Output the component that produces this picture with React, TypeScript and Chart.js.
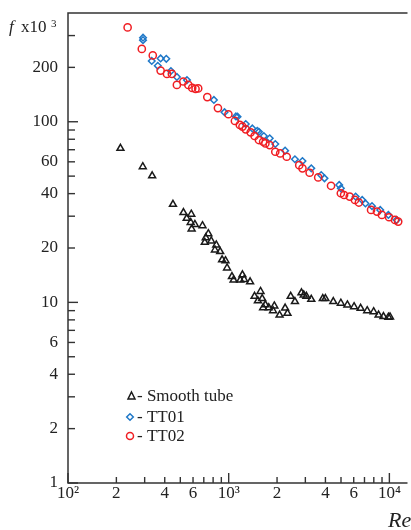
import React, { useEffect, useRef } from "react";
import { Chart, registerables } from "chart.js";

Chart.register(...registerables);

// ---- data ----
const smoothRe = [212, 292, 334, 450, 523, 585, 548, 580, 616, 588, 687, 747, 720, 710, 779, 837, 821, 885, 910, 955, 977, 1048, 1073, 1180, 1218, 1248, 1359, 1578, 1449, 1520, 1616, 1692, 1638, 1775, 1923, 1888, 2074, 2245, 2322, 2432, 2584, 2838, 2931, 3046, 3266, 3852, 3998, 4478, 4988, 5480, 6030, 6624, 7278, 7980, 8570, 9190, 9860, 10090];
const smoothF = [71.3, 56.4, 50.2, 34.9, 31.4, 30.8, 29.2, 27.7, 27.0, 25.5, 26.6, 24.0, 22.8, 21.5, 21.9, 20.8, 19.5, 19.1, 17.2, 17.0, 15.5, 13.9, 13.3, 13.3, 14.2, 13.4, 13.0, 11.5, 10.8, 10.2, 10.5, 9.7, 9.35, 9.35, 9.55, 9.0, 8.5, 9.3, 8.7, 10.8, 10.1, 11.3, 11.0, 10.8, 10.4, 10.5, 10.5, 10.1, 9.89, 9.68, 9.47, 9.27, 9.0, 8.88, 8.5, 8.34, 8.28, 8.3];

const tt01Re = [293, 293, 332, 377, 409, 362, 437, 476, 550, 809, 942, 1109, 1135, 1277, 1403, 1506, 1542, 1655, 1800, 1950, 2245, 2583, 2878, 3266, 3765, 3947, 4873, 4988, 6166, 6774, 7096, 7798, 8770, 9860, 11100];
const tt01F = [292, 283, 217, 224, 223, 204, 191, 177, 170, 132, 113, 107, 106.6, 97.1, 91.8, 89.1, 88.0, 83.4, 81.0, 75.3, 69.2, 62.0, 60.6, 55.2, 50.7, 48.6, 44.7, 42.8, 38.5, 36.9, 35.3, 34.1, 32.5, 30.5, 28.6];

const tt02Re = [235, 288, 337, 377, 413, 443, 476, 522, 561, 593, 622, 646, 736, 857, 996, 1093, 1173, 1218, 1277, 1370, 1449, 1542, 1638, 1692, 1800, 1950, 2091, 2297, 2748, 2878, 3190, 3606, 4335, 4988, 5226, 5664, 6104, 6458, 7692, 8372, 8983, 9953, 10835, 11350];
const tt02F = [333, 253, 233, 192, 184, 184, 160, 167, 160, 154, 152, 153, 137, 119, 110, 101, 96, 94, 90.8, 87.4, 83.4, 79.2, 77.5, 75.9, 74.3, 68.2, 66.8, 64.0, 57.5, 55.2, 52.2, 49.2, 44.2, 40.2, 39.3, 38.5, 36.9, 35.7, 32.5, 31.8, 30.5, 29.6, 28.6, 28.0];

const xTickValues = [100, 200, 400, 600, 1000, 2000, 4000, 6000, 10000];
const xTickLabels = ["10²", "2", "4", "6", "10³", "2", "4", "6", "10⁴"];
const yTickValues = [1, 2, 4, 6, 10, 20, 40, 60, 100, 200];
const yTickLabels = ["1", "2", "4", "6", "10", "20", "40", "60", "100", "200"];

const legendLabels = ["- Smooth tube", "- TT01", "- TT02"];

const SERIF = "'Liberation Serif', 'Times New Roman', serif";
const BLACK = "#1a1a1a";
const BLUE = "#1f78c8";
const RED = "#f01e23";

const toPts = (xs: number[], ys: number[]) => xs.map((x, i) => ({ x, y: ys[i] }));

const decorPlugin = {
  id: "decor",
  afterDraw(chart: any) {
    const ctx = chart.ctx as CanvasRenderingContext2D;
    const { left, right, top, bottom } = chart.chartArea;
    const xs = chart.scales.x;
    const ys = chart.scales.y;
    ctx.save();
    ctx.strokeStyle = "#333";
    ctx.lineWidth = 1.5;
    // frame
    ctx.beginPath();
    ctx.moveTo(right + 2, top);
    ctx.lineTo(left, top);
    ctx.lineTo(left, bottom);
    ctx.lineTo(right + 2, bottom);
    ctx.stroke();
    // x ticks (inside)
    ctx.lineWidth = 1.4;
    for (let d = 100; d <= 10000; d *= 10) {
      for (let m = 1; m <= 9; m++) {
        const v = d * m;
        if (v > xs.max) break;
        const px = xs.getPixelForValue(v);
        const len = m === 1 ? 10 : 6;
        ctx.beginPath();
        ctx.moveTo(px, bottom);
        ctx.lineTo(px, bottom - len);
        ctx.stroke();
      }
    }
    // y ticks (inside)
    for (let d = 1; d <= 100; d *= 10) {
      for (let m = 1; m <= 9; m++) {
        const v = d * m;
        if (v >= ys.max) break;
        const py = ys.getPixelForValue(v);
        const len = m === 1 ? 10 : 7;
        ctx.beginPath();
        ctx.moveTo(left, py);
        ctx.lineTo(left + len, py);
        ctx.stroke();
      }
    }
    // y title "f x10³"
    ctx.fillStyle = "#222";
    ctx.textBaseline = "alphabetic";
    ctx.textAlign = "left";
    ctx.font = `italic 17px ${SERIF}`;
    ctx.fillText("f", 9, 32);
    ctx.font = `17px ${SERIF}`;
    ctx.fillText("x10", 21, 32);
    ctx.font = `11px ${SERIF}`;
    ctx.fillText("3", 51, 27);
    // x title
    ctx.font = `italic 22px ${SERIF}`;
    ctx.fillText("Re", 388, 527);

    // legend
    const lx = 130;
    const rows = [396, 417, 436];
    ctx.lineWidth = 1.5;
    // triangle
    ctx.strokeStyle = BLACK;
    ctx.beginPath();
    const ty = rows[0];
    ctx.moveTo(lx + 1.5, ty - 4);
    ctx.lineTo(lx + 5, ty + 3);
    ctx.lineTo(lx - 2, ty + 3);
    ctx.closePath();
    ctx.stroke();
    // diamond
    ctx.strokeStyle = BLUE;
    ctx.beginPath();
    ctx.moveTo(lx, rows[1] - 3.3);
    ctx.lineTo(lx + 3.3, rows[1]);
    ctx.lineTo(lx, rows[1] + 3.3);
    ctx.lineTo(lx - 3.3, rows[1]);
    ctx.closePath();
    ctx.stroke();
    // circle
    ctx.strokeStyle = RED;
    ctx.beginPath();
    ctx.arc(lx, rows[2], 3.5, 0, Math.PI * 2);
    ctx.stroke();
    ctx.fillStyle = "#222";
    ctx.font = `17px ${SERIF}`;
    ctx.fillText(legendLabels[0], 137, rows[0] + 5);
    ctx.fillText(legendLabels[1], 137, rows[1] + 5);
    ctx.fillText(legendLabels[2], 137, rows[2] + 5);
    ctx.restore();
  },
};

export default function App() {
  const canvasRef = useRef<HTMLCanvasElement | null>(null);

  useEffect(() => {
    if (!canvasRef.current) return;
    const chart = new Chart(canvasRef.current, {
      type: "scatter",
      data: {
        datasets: [
          {
            label: "TT02",
            data: toPts(tt02Re, tt02F),
            pointStyle: "circle",
            radius: 3.6,
            borderWidth: 1.5,
            borderColor: RED,
            backgroundColor: "rgba(0,0,0,0)",
            order: 0,
            clip: false,
          } as any,
          {
            label: "TT01",
            data: toPts(tt01Re, tt01F),
            pointStyle: "rectRot",
            radius: 3.3,
            borderWidth: 1.5,
            borderColor: BLUE,
            backgroundColor: "rgba(0,0,0,0)",
            order: 1,
            clip: false,
          } as any,
          {
            label: "Smooth tube",
            data: toPts(smoothRe, smoothF),
            pointStyle: "triangle",
            radius: 4,
            borderWidth: 1.5,
            borderColor: BLACK,
            backgroundColor: "rgba(0,0,0,0)",
            order: 2,
            clip: false,
          } as any,
        ],
      },
      options: {
        animation: false,
        responsive: false,
        events: [],
        layout: { padding: { top: 13, right: 0, left: 0, bottom: 0 } },
        plugins: { legend: { display: false }, tooltip: { enabled: false } },
        scales: {
          x: {
            type: "logarithmic",
            min: 100,
            max: 12600,
            border: { display: false },
            grid: { display: false, drawTicks: false },
            afterFit: (s: any) => {
              s.height = 47;
              s.paddingLeft = 0;
              s.paddingRight = 0;
            },
            afterBuildTicks: (s: any) => {
              s.ticks = xTickValues.map((v) => ({ value: v }));
            },
            ticks: {
              autoSkip: false,
              maxRotation: 0,
              minRotation: 0,
              padding: 0,
              color: "#222",
              font: { family: SERIF, size: 17 },
              callback: (v: any) => {
                const i = xTickValues.indexOf(Number(v));
                return i >= 0 ? xTickLabels[i] : "";
              },
            },
          },
          y: {
            type: "logarithmic",
            min: 1,
            max: 400,
            border: { display: false },
            grid: { display: false, drawTicks: false },
            afterFit: (s: any) => {
              s.width = 68;
              s.paddingTop = 0;
              s.paddingBottom = 0;
            },
            afterBuildTicks: (s: any) => {
              s.ticks = yTickValues.map((v) => ({ value: v }));
            },
            ticks: {
              autoSkip: false,
              padding: 10,
              color: "#222",
              font: { family: SERIF, size: 17 },
              callback: (v: any) => {
                const i = yTickValues.indexOf(Number(v));
                return i >= 0 ? yTickLabels[i] : "";
              },
            },
          },
        },
      },
      plugins: [decorPlugin],
    });
    return () => chart.destroy();
  }, []);

  return (
    <div style={{ position: "fixed", left: 0, top: 0, width: 411, height: 530, background: "#fff" }}>
      <canvas ref={canvasRef} width={411} height={530} style={{ width: 411, height: 530, display: "block" }} />
    </div>
  );
}
